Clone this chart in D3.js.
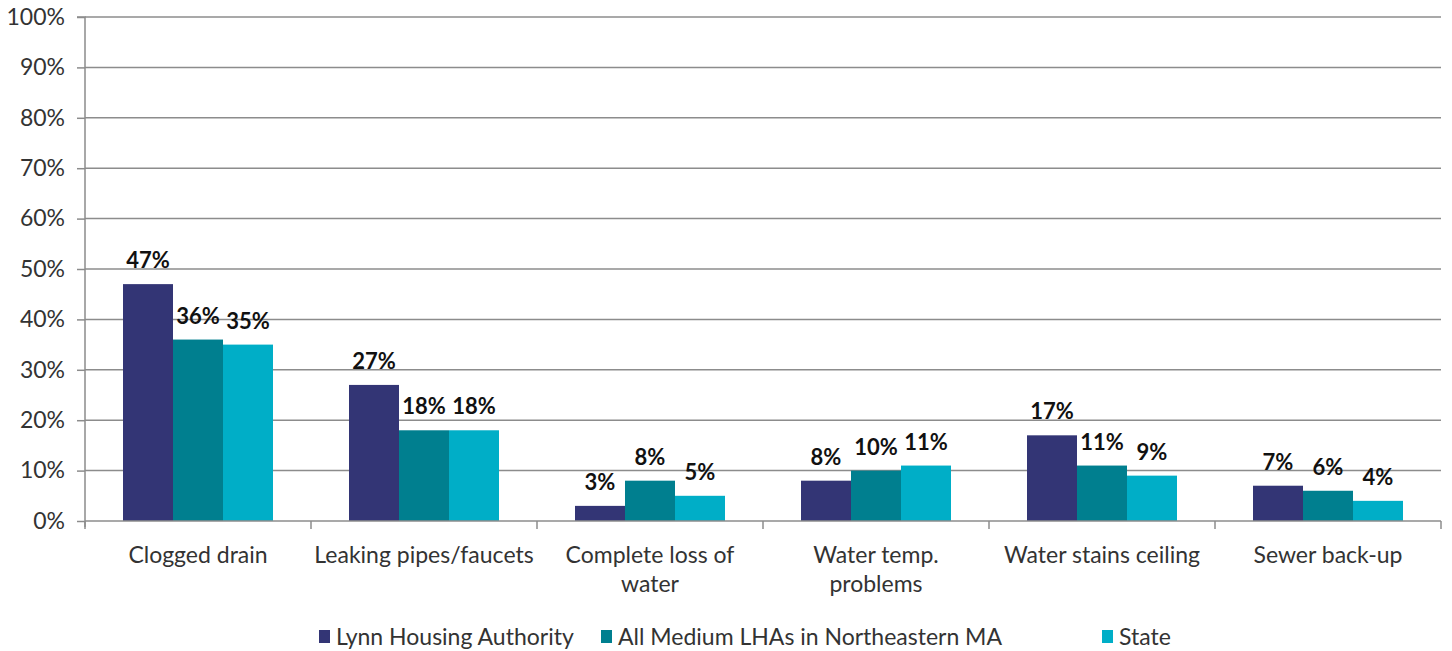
<!DOCTYPE html>
<html><head><meta charset="utf-8">
<script src="https://cdn.jsdelivr.net/npm/d3@7"></script>
<style>body{margin:0;background:#fff;font-family:Lato,"Open Sans",sans-serif;}</style>
</head><body><svg id="c" width="1452" height="651"></svg>
<script>
const categories = ["Clogged drain","Leaking pipes/faucets","Complete loss of water","Water temp. problems","Water stains ceiling","Sewer back-up"];
const categoryLines = [["Clogged drain"],["Leaking pipes/faucets"],["Complete loss of","water"],["Water temp.","problems"],["Water stains ceiling"],["Sewer back-up"]];
const seriesNames = ["Lynn Housing Authority","All Medium LHAs in Northeastern MA","State"];
const lynn = [47,27,3,8,17,7];
const medium = [36,18,8,10,11,6];
const state = [35,18,5,11,9,4];
const yTicks = [0,10,20,30,40,50,60,70,80,90,100];
const colors = ["#333575","#007F8F","#00AEC7"];

const FONT = "Lato,'Open Sans',sans-serif";
const svg = d3.select("#c");
const L=85,R=1441,T=17,B=521;
const x = d3.scaleBand().domain(categories).range([L,R]).paddingInner(0).paddingOuter(0);
const xs = d3.scaleBand().domain(seriesNames).range([0,x.bandwidth()]).paddingInner(0).paddingOuter(0.76);
const y = d3.scaleLinear().domain([0,100]).range([B,T]);

// gridlines
svg.append("g").selectAll("line").data(yTicks.filter(d=>d>0)).join("line")
 .attr("x1",L).attr("x2",R).attr("y1",d=>y(d)).attr("y2",d=>y(d))
 .attr("stroke","#8c8c8c").attr("stroke-width",1.5);

// y axis
const ya = svg.append("g").attr("transform",`translate(${L},0)`)
 .call(d3.axisLeft(y).tickValues(yTicks).tickFormat(d=>d+"%").tickSize(8).tickPadding(12));
ya.select(".domain").attr("stroke","#8c8c8c").attr("stroke-width",1.5).attr("d",`M-8,${T}H0V${B+6}`);
ya.selectAll(".tick line").attr("stroke","#8c8c8c").attr("stroke-width",1.5);
ya.selectAll(".tick text").attr("font-family",FONT).attr("font-size",23).attr("fill","#333");

// bars
const series = [lynn,medium,state];
const g = svg.append("g");
series.forEach((vals,si)=>{
  g.selectAll(null).data(vals).join("rect")
   .attr("x",(d,i)=>x(categories[i])+xs(seriesNames[si]))
   .attr("width",xs.bandwidth())
   .attr("y",d=>y(d)).attr("height",d=>B-y(d))
   .attr("fill",colors[si]);
  g.selectAll(null).data(vals).join("text")
   .attr("x",(d,i)=>x(categories[i])+xs(seriesNames[si])+xs.bandwidth()/2)
   .attr("y",d=>y(d)-16)
   .attr("text-anchor","middle").attr("font-weight","bold").attr("font-size",22)
   .attr("font-family",FONT).attr("fill","#111")
   .text(d=>d+"%");
});

// x axis
svg.append("line").attr("x1",L).attr("x2",R).attr("y1",B).attr("y2",B).attr("stroke","#8c8c8c").attr("stroke-width",1.5);
const bounds = categories.map(c=>x(c)).concat([R]);
svg.append("g").selectAll("line").data(bounds).join("line")
 .attr("x1",d=>d).attr("x2",d=>d).attr("y1",B).attr("y2",B+8).attr("stroke","#8c8c8c").attr("stroke-width",1.5);
const xl = svg.append("g").selectAll("text").data(categories).join("text")
 .attr("x",d=>x(d)+x.bandwidth()/2).attr("y",563)
 .attr("text-anchor","middle").attr("font-size",23).attr("fill","#333")
 .attr("font-family",FONT);
xl.each(function(d,i){
  d3.select(this).selectAll("tspan").data(categoryLines[i]).join("tspan")
   .attr("x",x(d)+x.bandwidth()/2).attr("dy",(t,j)=>j?29:0).text(t=>t);
});

// legend
const legX = [319,601,1102];
const lg = svg.append("g");
seriesNames.forEach((n,i)=>{
  lg.append("rect").attr("x",legX[i]).attr("y",630).attr("width",11).attr("height",13).attr("fill",colors[i]);
  lg.append("text").attr("x",legX[i]+17).attr("y",645).attr("font-size",23).attr("fill","#333")
   .attr("font-family",FONT).text(n);
});
</script></body></html>
